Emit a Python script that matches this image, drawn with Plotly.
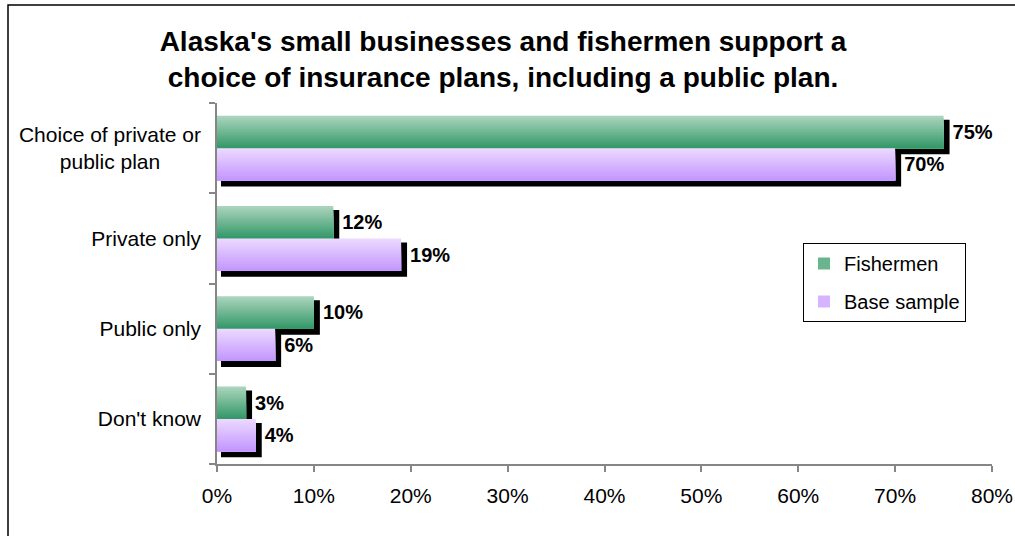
import plotly.graph_objects as go

# Survey results: share of respondents preferring each insurance option
categories = ["Choice of private or public plan", "Private only", "Public only", "Don't know"]
tick_text = ["Choice of private or<br>public plan", "Private only", "Public only", "Don't know"]
fishermen = [75, 12, 10, 3]
base_sample = [70, 19, 6, 4]
series_names = ["Fishermen", "Base sample"]

# gradient end colours (top, bottom) per series
gradients = [("#a9d4bc", "#36996a"), ("#ebd8ff", "#c497ff")]

W, H = 1015, 536
ML, MR, MT, MB = 217, 23, 103, 72
plot_w = W - ML - MR
plot_h = H - MT - MB
x_max = 80
px_per_x = plot_w / x_max
px_per_cat = plot_h / len(categories)

bar_w = 0.36          # bar thickness in category units
n_strips = 14         # strips used to paint the vertical gradient
sh_l, sh_r = 4 / px_per_x, 6 / px_per_x      # shadow offsets (data units)
sh_t, sh_b = 4 / px_per_cat, 6 / px_per_cat


def hex_to_rgb(h):
    h = h.lstrip("#")
    return tuple(int(h[i:i + 2], 16) for i in (0, 2, 4))


def mix(c0, c1, t):
    a, b = hex_to_rgb(c0), hex_to_rgb(c1)
    return "rgb({},{},{})".format(*(round(a[i] + (b[i] - a[i]) * t) for i in range(3)))


def centre_lines(label, pad_char="\u00a0", n_pad=7):
    # right-anchored tick text: pad the short second line so it sits centred
    if "<br>" not in label:
        return label
    first, second = label.split("<br>", 1)
    return first + "<br>" + second + pad_char * n_pad


fig = go.Figure()
series = [fishermen, base_sample]
offsets = [-bar_w, 0.0]

# drop shadows behind every bar
for vals, off in zip(series, offsets):
    fig.add_trace(go.Bar(
        y=categories, x=[v + sh_r - sh_l for v in vals], base=sh_l,
        orientation="h", offset=off + sh_t, width=bar_w + sh_b - sh_t,
        marker=dict(color="black", line=dict(width=0)),
        showlegend=False, hoverinfo="skip",
    ))

# gradient bars, painted as overlapping strips from top to bottom
step = bar_w / n_strips
for k, (vals, off, name, (c_top, c_bot)) in enumerate(zip(series, offsets, series_names, gradients)):
    for i in range(n_strips):
        t = i / (n_strips - 1)
        fig.add_trace(go.Bar(
            y=categories, x=vals, orientation="h",
            offset=off + i * step, width=bar_w - i * step,
            marker=dict(color=mix(c_top, c_bot, t), line=dict(width=0)),
            name=name, legendgroup=name, showlegend=False,
            hovertemplate=name + ": %{x}%<extra></extra>",
        ))
    # legend entry
    fig.add_trace(go.Bar(
        y=[categories[0]], x=[0], orientation="h", offset=off, width=bar_w,
        marker=dict(color=mix(c_top, c_bot, 0.55), line=dict(width=0)),
        name=name, legendgroup=name, showlegend=True, hoverinfo="skip",
    ))

# value labels just past each shadow
for vals, off in zip(series, offsets):
    fig.add_trace(go.Bar(
        y=categories, x=[v + sh_r for v in vals], orientation="h",
        offset=off, width=bar_w,
        marker=dict(color="rgba(0,0,0,0)", line=dict(width=0)),
        text=[f"{v}%" for v in vals], textposition="outside",
        textfont=dict(family="Liberation Sans, Arial", size=20, color="black", weight="bold"),
        constraintext="none", cliponaxis=False,
        showlegend=False, hoverinfo="skip",
    ))

axis_grey = "#868686"
fig.update_layout(
    width=W, height=H,
    margin=dict(l=ML, r=MR, t=MT, b=MB, autoexpand=False),
    barmode="overlay",
    paper_bgcolor="white", plot_bgcolor="white",
    font=dict(family="Liberation Sans, Arial", size=20, color="black"),
    title=dict(
        text="Alaska's small businesses and fishermen support a<br>choice of insurance plans, including a public plan.",
        x=503 / W, xanchor="center", xref="container",
        y=1 - 51 / H, yanchor="middle", yref="container",
        font=dict(family="Liberation Sans, Arial", size=28, color="black", weight="bold"),
    ),
    xaxis=dict(
        range=[0, x_max], dtick=10, ticksuffix="%",
        showgrid=False, zeroline=False,
        showline=True, linecolor=axis_grey, linewidth=1.5,
        ticks="outside", ticklen=6, tickcolor=axis_grey, tickwidth=1.5,
        ticklabelstandoff=6, automargin=False,
        tickfont=dict(size=21),
    ),
    yaxis=dict(
        type="category", categoryorder="array", categoryarray=categories,
        range=[len(categories) - 0.5, -0.5],
        tickmode="array", tickvals=categories,
        ticktext=[centre_lines(t) for t in tick_text],
        tickson="boundaries",
        showgrid=False, zeroline=False,
        showline=True, linecolor=axis_grey, linewidth=1.5,
        ticks="outside", ticklen=6, tickcolor=axis_grey, tickwidth=1.5,
        ticklabelstandoff=10, automargin=False,
        tickfont=dict(size=21),
    ),
    legend=dict(
        x=(803 - ML) / plot_w, xanchor="left",
        y=(H - MB - 243) / plot_h, yanchor="top",
        bordercolor="black", borderwidth=1, bgcolor="white",
        traceorder="grouped", tracegroupgap=9,
        font=dict(size=20),
    ),
    shapes=[dict(
        type="rect", xref="paper", yref="paper",
        x0=(8 - ML) / plot_w, x1=(W + 10 - ML) / plot_w,
        y0=-(MB + 10) / plot_h, y1=(H - MB - 5) / plot_h,
        line=dict(color="black", width=1.5), fillcolor="rgba(0,0,0,0)",
        layer="below",
    )],
)

fig.write_html("out.html", config={"displayModeBar": False})
